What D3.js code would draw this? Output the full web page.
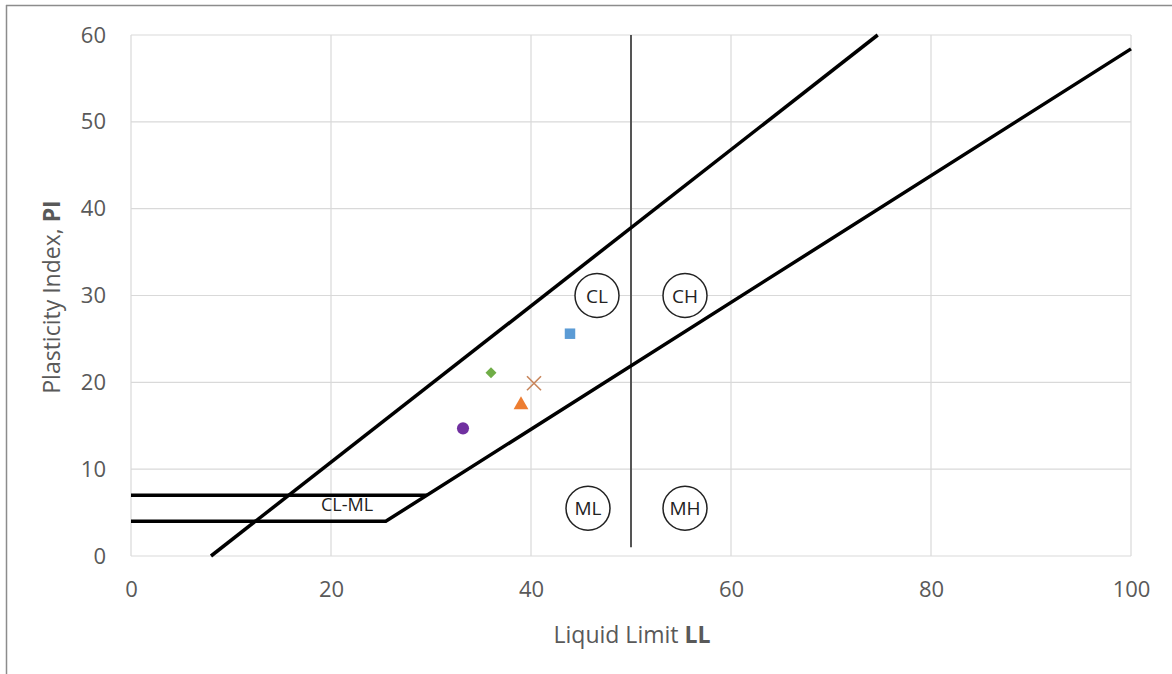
<!DOCTYPE html>
<html>
<head>
<meta charset="utf-8">
<script src="https://cdnjs.cloudflare.com/ajax/libs/d3/7.8.5/d3.min.js"></script>
<style>
  body { margin: 0; background: #fff; }
  text { font-family: "Open Sans", "Noto Sans", sans-serif; }
</style>
</head>
<body>
<div id="chart"></div>
<script>
// tick values
var xTicks = [0, 20, 40, 60, 80, 100];
var yTicks = [0, 10, 20, 30, 40, 50, 60];

// sample points (LL, PI)
var sampleLL = [43.9, 36.0, 40.3, 39.0, 33.2];
var samplePI = [25.6, 21.1, 19.9, 17.4, 14.7];
var sampleShape = ["square", "diamond", "cross", "triangle", "circle"];
var sampleColor = ["#5B9BD5", "#70AD47", "#C8865C", "#ED7D31", "#7030A0"];

// classification lines
var uLineLL = [8, 74.67];
var uLinePI = [0, 60];
var aLineLL = [0, 25.48, 100];
var aLinePI = [4, 4, 58.4];
var topCLML_LL = [0, 29.6];
var topCLML_PI = [7, 7];
var divLL = [50, 50];
var divPI = [60, 1];

// zone labels
var zoneNames = ["CL", "CH", "ML", "MH"];
var zoneLL = [46.6, 55.4, 45.7, 55.4];
var zonePI = [30, 30, 5.5, 5.5];

var W = 1172, H = 674;
var plotL = 131, plotR = 1131, plotT = 35, plotB = 556;

var svg = d3.select("#chart").append("svg")
    .attr("width", W)
    .attr("height", H);

// outer frame (top and left only visible)
svg.append("line").attr("x1", 6).attr("x2", W).attr("y1", 5.5).attr("y2", 5.5)
    .attr("stroke", "#8c8c8c").attr("stroke-width", 1.5);
svg.append("line").attr("x1", 6.5).attr("x2", 6.5).attr("y1", 5).attr("y2", H)
    .attr("stroke", "#8c8c8c").attr("stroke-width", 1.5);

var x = d3.scaleLinear().domain([0, 100]).range([plotL, plotR]);
var y = d3.scaleLinear().domain([0, 60]).range([plotB, plotT]);

//gridlines
svg.append("g").selectAll("line").data(xTicks).enter().append("line")
    .attr("x1", function (d) { return x(d); })
    .attr("x2", function (d) { return x(d); })
    .attr("y1", plotT).attr("y2", plotB)
    .attr("stroke", "#d9d9d9").attr("stroke-width", 1.2);
svg.append("g").selectAll("line").data(yTicks).enter().append("line")
    .attr("x1", plotL).attr("x2", plotR)
    .attr("y1", function (d) { return y(d); })
    .attr("y2", function (d) { return y(d); })
    .attr("stroke", "#d9d9d9").attr("stroke-width", 1.2);

// axes (labels only)
var xAxis = svg.append("g")
    .attr("transform", "translate(0," + plotB + ")")
    .call(d3.axisBottom(x).tickValues(xTicks).tickSize(0).tickPadding(25));
var yAxis = svg.append("g")
    .attr("transform", "translate(" + plotL + ",0)")
    .call(d3.axisLeft(y).tickValues(yTicks).tickSize(0).tickPadding(25));
[xAxis, yAxis].forEach(function (a) {
    a.select(".domain").remove();
    a.selectAll("text").attr("fill", "#595959").style("font-size", "22px")
        .style("font-family", "'Open Sans', sans-serif");
});

// axis titles
var xt = svg.append("text")
    .attr("x", 632).attr("y", 643)
    .attr("text-anchor", "middle")
    .attr("fill", "#595959").style("font-size", "23px");
xt.append("tspan").text("Liquid Limit ");
xt.append("tspan").attr("font-weight", "bold").text("LL");

var yt = svg.append("text")
    .attr("transform", "translate(60,297) rotate(-90)")
    .attr("text-anchor", "middle")
    .attr("fill", "#595959").style("font-size", "23px");
yt.append("tspan").text("Plasticity Index, ");
yt.append("tspan").attr("font-weight", "bold").text("PI");

// lines
var line = d3.line()
    .x(function (d) { return x(d[0]); })
    .y(function (d) { return y(d[1]); });

function drawLine(lls, pis, w, col) {
    svg.append("path")
        .attr("d", line(d3.zip(lls, pis)))
        .attr("fill", "none")
        .attr("stroke", col)
        .attr("stroke-width", w);
}
drawLine(divLL, divPI, 2, "#555");
drawLine(uLineLL, uLinePI, 3.5, "#000");
drawLine(aLineLL, aLinePI, 3.5, "#000");
drawLine(topCLML_LL, topCLML_PI, 3.5, "#000");

// CL-ML label
svg.append("text")
    .attr("x", 347).attr("y", 511)
    .attr("text-anchor", "middle")
    .attr("fill", "#222").style("font-size", "18px")
    .text("CL-ML");

// zone circles
var zones = svg.append("g").selectAll("g").data(zoneNames).enter().append("g")
    .attr("transform", function (d, i) { return "translate(" + x(zoneLL[i]) + "," + y(zonePI[i]) + ")"; });
zones.append("circle").attr("r", 22)
    .attr("fill", "#fff").attr("stroke", "#222").attr("stroke-width", 1.5);
zones.append("text")
    .attr("text-anchor", "middle").attr("dy", 7)
    .attr("fill", "#222").style("font-size", "19px")
    .text(function (d) { return d; });

// sample points
var symbolMap = {
    square: d3.symbolSquare,
    diamond: d3.symbolSquare,
    triangle: d3.symbolTriangle,
    circle: d3.symbolCircle,
    cross: d3.symbolX
};
var sizeMap = { square: 110, diamond: 60, triangle: 95, circle: 115, cross: 130 };
svg.append("g").selectAll("path").data(sampleLL).enter().append("path")
    .attr("transform", function (d, i) {
        return "translate(" + x(d) + "," + y(samplePI[i]) + ")" + (sampleShape[i] === "diamond" ? " rotate(45)" : "");
    })
    .attr("d", function (d, i) { return d3.symbol().type(symbolMap[sampleShape[i]]).size(sizeMap[sampleShape[i]])(); })
    .attr("fill", function (d, i) { return sampleShape[i] === "cross" ? "none" : sampleColor[i]; })
    .attr("stroke", function (d, i) { return sampleShape[i] === "cross" ? sampleColor[i] : "none"; })
    .attr("stroke-width", 1.6);
</script>
</body>
</html>
